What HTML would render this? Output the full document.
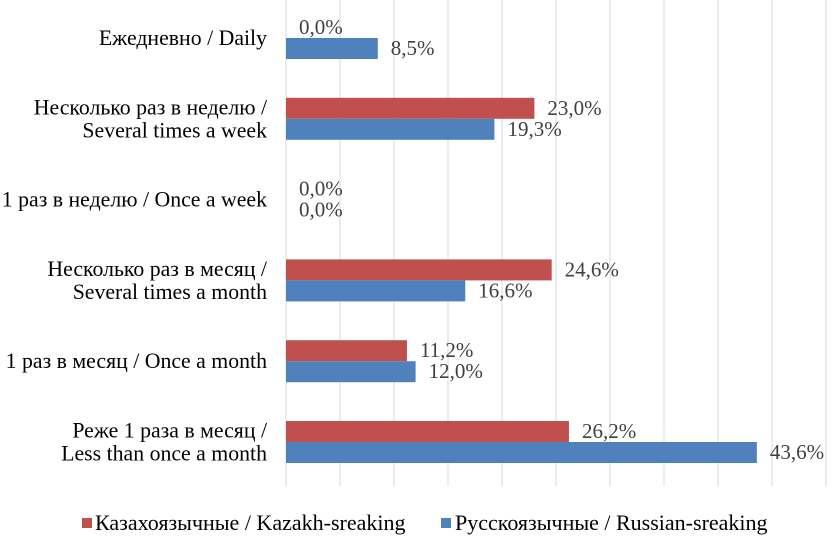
<!DOCTYPE html>
<html><head><meta charset="utf-8"><style>
body{margin:0;background:#fff;}
svg{display:block;}
svg text{font-family:"Liberation Serif","DejaVu Serif","Times New Roman",serif;}
</style></head><body>
<svg id="c" width="834" height="542"></svg>
<script>
const categories=[["Ежедневно / Daily"],["Несколько раз в неделю /","Several times a week"],["1 раз в неделю / Once a week"],["Несколько раз в месяц /","Several times a month"],["1 раз в месяц / Once a month"],["Реже 1 раза в месяц /","Less than once a month"]];
const kazakh=[0.0,23.0,0.0,24.6,11.2,26.2];
const russian=[8.5,19.3,0.0,16.6,12.0,43.6];
const ticks=[0,5,10,15,20,25,30,35,40,45,50];
const NS="http://www.w3.org/2000/svg";
const svg=document.getElementById('c');
const x0=286,pxPer=10.8,top0=38,step=80.8,bh=21;
const X=v=>x0+v*pxPer;
const Y=i=>top0+i*step;
const FF='"Liberation Serif","DejaVu Serif","Times New Roman",serif';
function el(t,a,p){const e=document.createElementNS(NS,t);for(const k in a)e.setAttribute(k,a[k]);if(t==='text')e.setAttribute('font-family',FF);(p||svg).appendChild(e);return e;}
ticks.forEach(t=>{const g=el('line',{x1:X(t),x2:X(t),y1:0,y2:486,stroke:'#d9d9d9','stroke-width':1});

});
const fmt=v=>v.toFixed(1).replace('.',',')+'%';
categories.forEach((c,i)=>{
 const cy=Y(i);
 const r=el('rect',{x:x0,y:cy-bh,width:X(kazakh[i])-x0,height:bh,fill:'#c0504d'});
 
 
 const b=el('rect',{x:x0,y:cy,width:X(russian[i])-x0,height:bh,fill:'#4f81bd'});
 
 
 const l1=el('text',{x:X(kazakh[i])+13,y:cy-4,'font-size':21,fill:'#404040'});l1.textContent=fmt(kazakh[i]);
 
 
 const l2=el('text',{x:X(russian[i])+13,y:cy+17,'font-size':21,fill:'#404040'});l2.textContent=fmt(russian[i]);
 
 
 const n=c.length;
 c.forEach((line,j)=>{const t=el('text',{x:267,y:cy+7+(j-(n-1)/2)*23,'font-size':21.8,fill:'#000','text-anchor':'end'});t.textContent=line;
 
 });
});
const lg=el('g',{});


const s1=el('rect',{x:82,y:518,width:10,height:10,fill:'#c0504d'},lg);


const t1=el('text',{x:95,y:530,'font-size':22,fill:'#000'},lg);t1.textContent='Казахоязычные / Kazakh-sreaking';


const s2=el('rect',{x:441,y:518,width:10,height:10,fill:'#4f81bd'},lg);


const t2=el('text',{x:455,y:530,'font-size':22,fill:'#000'},lg);t2.textContent='Русскоязычные / Russian-sreaking';


</script>
</body></html>
